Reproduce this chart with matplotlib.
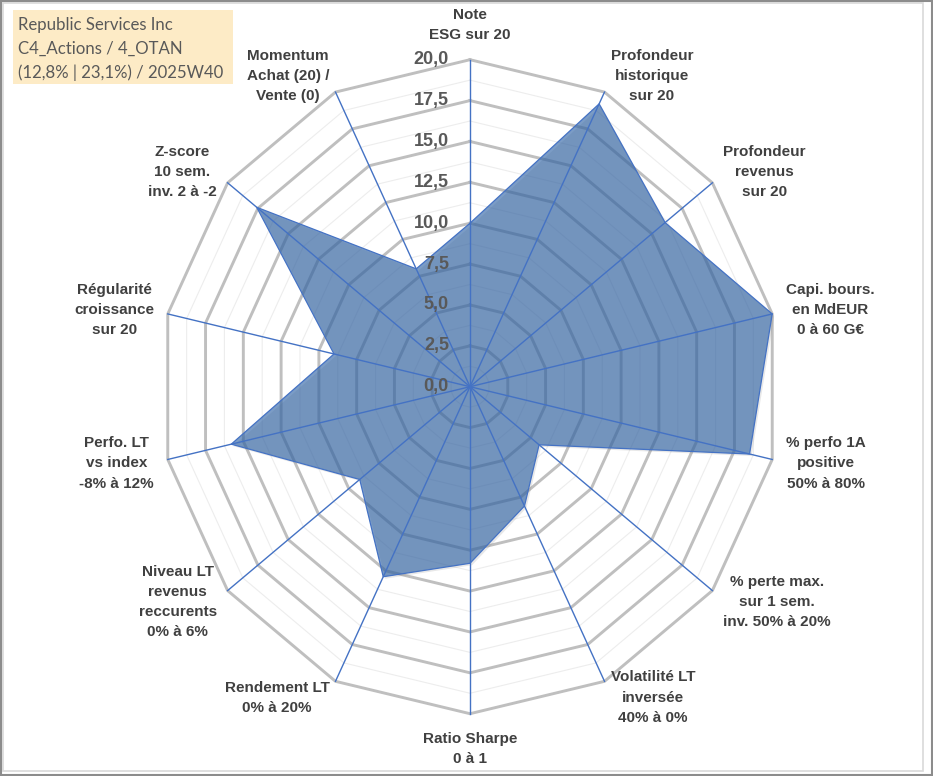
import numpy as np
import matplotlib
matplotlib.use('Agg')
import matplotlib.pyplot as plt
from matplotlib.patches import Rectangle
from matplotlib.transforms import offset_copy

# axes labels (clockwise from the top)
categories = [
    "Note\nESG sur 20",
    "Profondeur\nhistorique\nsur 20",
    "Profondeur\nrevenus\nsur 20",
    "Capi. bours.\nen MdEUR\n0 à 60 G€",
    "% perfo 1A\npositive\n50% à 80%",
    "% perte max.\nsur 1 sem.\ninv. 50% à 20%",
    "Volatilité LT\ninversée\n40% à 0%",
    "Ratio Sharpe\n0 à 1",
    "Rendement LT\n0% à 20%",
    "Niveau LT\nrevenus\nreccurents\n0% à 6%",
    "Perfo. LT\nvs index\n-8% à 12%",
    "Régularité\ncroissance\nsur 20",
    "Z-score\n10 sem.\ninv. 2 à -2",
    "Momentum\nAchat (20) /\nVente (0)",
]
scores = [10.0, 19.2, 16.1, 20.0, 18.5, 5.7, 8.1, 10.8, 12.9, 9.1, 15.8, 9.0, 17.6, 8.0]
ticks = [0.0, 2.5, 5.0, 7.5, 10.0, 12.5, 15.0, 17.5, 20.0]
title_lines = ["Republic Services Inc", "C4_Actions / 4_OTAN", "(12,8% | 23,1%) / 2025W40"]

W, H = 933, 776
fig = plt.figure(figsize=(W / 100, H / 100), dpi=100)
ax = fig.add_axes([0, 0, 1, 1])
ax.axis('off')

# center of the chart in pixels and scale of the 20 ring
cx, cy = 470, 386.7
rx, ry = 310, 327
ax.set_xlim(-cx / rx * 20, (W - cx) / rx * 20)
ax.set_ylim(-(H - cy) / ry * 20, cy / ry * 20)

n = len(categories)
theta = np.arange(n) * 2 * np.pi / n
s, c = np.sin(theta), np.cos(theta)

# rings
for lev in np.arange(1.25, 20.01, 1.25):
    xs = np.append(lev * s, lev * s[0])
    ys = np.append(lev * c, lev * c[0])
    if abs(lev / 2.5 - round(lev / 2.5)) < 1e-6:
        ax.plot(xs, ys, color='#BFBFBF', lw=2.1, zorder=1, solid_joinstyle='miter')
    else:
        ax.plot(xs, ys, color='#EDEDED', lw=0.8, zorder=1)

# data polygon
vals = np.array(scores)
px = np.append(vals * s, vals[0] * s[0])
py = np.append(vals * c, vals[0] * c[0])
shadow = offset_copy(ax.transData, fig=fig, x=2, y=-2, units='dots')
ax.fill(px, py, color='#808080', alpha=0.18, lw=0, zorder=2, transform=shadow)
ax.fill(px, py, color='#2F63A5', alpha=0.63, lw=0, zorder=3)
ax.plot(px, py, color='#4472C4', lw=0.9, zorder=4)

# spokes
for si, ci in zip(s, c):
    ax.plot([0, 20 * si], [0, 20 * ci], color='#4472C4', lw=1.0, zorder=5)

# tick labels
tick_tr = offset_copy(ax.transData, fig=fig, x=-21, y=0, units='dots')
for t in ticks:
    ax.text(0, t, f"{t:.1f}".replace('.', ','), transform=tick_tr, ha='right', va='center',
            fontsize=13, fontweight='bold', color='#595959', family='Liberation Sans', zorder=6)

# category labels
for lab, si, ci in zip(categories, s, c):
    tr = offset_copy(ax.transData, fig=fig, x=14 * si, y=18 * ci, units='dots')
    if abs(si) < 0.1:
        ha = 'center'
        va = 'bottom' if ci > 0 else 'top'
    else:
        ha = 'left' if si > 0 else 'right'
        va = 'center'
    ax.text(20 * si, 20 * ci, lab, transform=tr, ha=ha, va=va, multialignment='center',
            fontsize=11, fontweight='bold', color='#404040', family='Liberation Sans',
            linespacing=1.55, zorder=6)

# title box
fig.patches.append(Rectangle((13 / W, 1 - 84 / H), 220 / W, 74 / H, transform=fig.transFigure,
                             facecolor='#FDEBC6', edgecolor='none', zorder=0))
for i, line in enumerate(title_lines):
    fig.text(18 / W, 1 - (25 + i * 24) / H, line, ha='left', va='center',
             fontsize=12.1, color='#595959', family='Lato')

# frame
fig.patches.append(Rectangle((3 / W, 5 / H), 920 / W, 768 / H, transform=fig.transFigure,
                             facecolor='none', edgecolor='#D9D9D9', lw=1.2))
fig.patches.append(Rectangle((0.8 / W, 0.8 / H), (W - 1.6) / W, (H - 1.6) / H, transform=fig.transFigure,
                             facecolor='none', edgecolor='#8C8C8C', lw=1.5))

fig.savefig('out.png', dpi=100, facecolor='white')
